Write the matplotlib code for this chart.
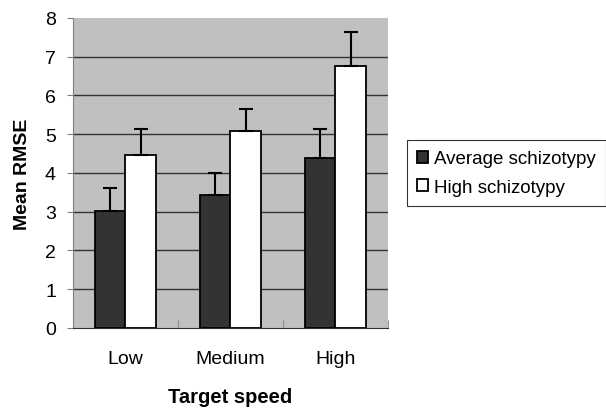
import matplotlib.pyplot as plt
import numpy as np

plt.rcParams['font.family'] = ['Liberation Sans', 'DejaVu Sans']

speeds = ['Low', 'Medium', 'High']
avg_mean = [3.02, 3.43, 4.39]
avg_err = [0.58, 0.57, 0.74]
high_mean = [4.47, 5.08, 6.75]
high_err = [0.66, 0.56, 0.88]

fig = plt.figure(figsize=(6.06, 4.1), dpi=100)
ax = fig.add_axes([0.1205, 0.1976, 0.5195, 0.7561])
ax.set_facecolor('#c0c0c0')

x = np.arange(len(speeds))
w = 0.29
ax.bar(x - w/2, avg_mean, w, color='#333333', edgecolor='black', linewidth=1.3,
       yerr=[np.zeros(3), avg_err], capsize=5,
       error_kw=dict(elinewidth=1.5, capthick=1.5, ecolor='black'),
       label='Average schizotypy', zorder=3)
ax.bar(x + w/2, high_mean, w, color='white', edgecolor='black', linewidth=1.3,
       yerr=[np.zeros(3), high_err], capsize=5,
       error_kw=dict(elinewidth=1.5, capthick=1.5, ecolor='black'),
       label='High schizotypy', zorder=3)

ax.set_xlim(-0.5, 2.5)
ax.set_ylim(0, 8)
ax.set_yticks(range(0, 9))
for yv in range(1, 8):
    ax.axhline(yv, color='#333333', linewidth=1, zorder=1)
ax.set_xticks(x)
ax.set_xticklabels(speeds, fontsize=14)
ax.set_xticks([-0.5, 0.5, 1.5, 2.5], minor=True)
ax.tick_params(axis='x', which='major', length=0, pad=16)
ax.tick_params(axis='x', which='minor', length=6, color='#808080', direction='in')
ax.tick_params(axis='y', labelsize=14, length=4.3, pad=8, color='#808080')

for s in ['top', 'right']:
    ax.spines[s].set_visible(False)
ax.spines['left'].set_color('#808080')
ax.spines['bottom'].set_color('#333333')

ax.set_xlabel('Target speed', fontsize=14.5, fontweight='bold', labelpad=14)
ax.set_ylabel('Mean RMSE', fontsize=14, fontweight='bold', labelpad=10)

leg = ax.legend(loc='center left', bbox_to_anchor=(1.06, 0.5), fontsize=13.5,
                frameon=True, fancybox=False, handlelength=0.6, handleheight=0.6,
                handletextpad=0.3, borderpad=0.55, labelspacing=0.6,
                borderaxespad=0, edgecolor='black')
leg.get_frame().set_linewidth(0.8)

fig.savefig('out.png', dpi=100)
